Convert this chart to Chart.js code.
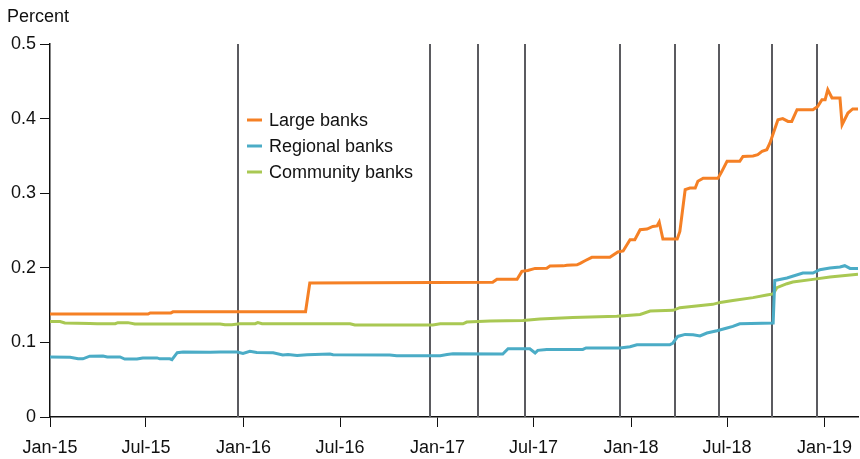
<!DOCTYPE html>
<html>
<head>
<meta charset="utf-8">
<script src="https://cdn.jsdelivr.net/npm/chart.js@4.4.1/dist/chart.umd.min.js"></script>
<style>
  html, body { margin: 0; padding: 0; background: #fff; }
  #wrap { width: 860px; height: 459px; }
</style>
</head>
<body>
<div id="wrap"><canvas id="depositChart" width="860" height="459"></canvas></div>
<script>
// x values are days since 1 Jan 2015
const tickDays = [0, 181, 365, 547, 731, 912, 1096, 1277, 1461];
const tickLabels = ['Jan-15', 'Jul-15', 'Jan-16', 'Jul-16', 'Jan-17', 'Jul-17', 'Jan-18', 'Jul-18', 'Jan-19'];
const hikeDays = [354, 716, 808, 895, 1076, 1178, 1261, 1362, 1446];

const largeDays = [0, 185, 189, 228, 232, 482, 490, 835, 843, 881, 890, 901, 915, 937, 943, 968, 975, 994, 1000, 1009, 1022, 1056, 1071, 1081, 1094, 1103, 1113, 1126, 1137, 1145, 1149, 1156, 1183, 1188, 1198, 1207, 1217, 1222, 1232, 1260, 1267, 1277, 1301, 1307, 1326, 1335, 1343, 1352, 1358, 1373, 1382, 1392, 1399, 1409, 1439, 1448, 1456, 1462, 1467, 1475, 1490, 1494, 1505, 1514, 1524];
const largeVals = [0.138, 0.138, 0.1395, 0.1395, 0.141, 0.141, 0.1796, 0.1805, 0.1845, 0.1845, 0.1952, 0.1965, 0.1992, 0.1995, 0.2024, 0.2026, 0.2035, 0.204, 0.206, 0.2095, 0.214, 0.214, 0.2212, 0.2225, 0.2377, 0.2377, 0.251, 0.252, 0.2555, 0.2562, 0.2614, 0.2386, 0.2386, 0.2488, 0.3047, 0.307, 0.307, 0.316, 0.32, 0.32, 0.329, 0.3427, 0.3427, 0.3493, 0.35, 0.3516, 0.356, 0.3583, 0.3673, 0.3985, 0.4, 0.3962, 0.3962, 0.4119, 0.4119, 0.4164, 0.4253, 0.4253, 0.4387, 0.4276, 0.4276, 0.3918, 0.4075, 0.4129, 0.4129];

const regionalDays = [0, 38, 53, 62, 75, 100, 108, 132, 141, 164, 175, 202, 207, 226, 230, 240, 251, 302, 321, 353, 364, 377, 390, 421, 439, 449, 466, 485, 528, 534, 641, 654, 736, 749, 760, 854, 864, 905, 915, 920, 937, 1005, 1011, 1075, 1094, 1107, 1169, 1175, 1184, 1198, 1213, 1226, 1239, 1258, 1277, 1288, 1301, 1364, 1367, 1390, 1420, 1439, 1452, 1471, 1490, 1499, 1509, 1524];
const regionalVals = [0.0804, 0.08, 0.078, 0.078, 0.0815, 0.0818, 0.0805, 0.0805, 0.0777, 0.0777, 0.0792, 0.0792, 0.078, 0.078, 0.0768, 0.0862, 0.0871, 0.0868, 0.0871, 0.0871, 0.0853, 0.088, 0.0866, 0.0862, 0.0831, 0.0839, 0.0826, 0.0835, 0.0844, 0.0835, 0.0831, 0.0822, 0.0822, 0.0839, 0.0848, 0.0845, 0.0915, 0.0915, 0.0858, 0.0893, 0.0906, 0.0906, 0.0925, 0.0925, 0.0942, 0.0969, 0.0969, 0.0992, 0.108, 0.1107, 0.1103, 0.1086, 0.1126, 0.1157, 0.1193, 0.1214, 0.125, 0.126, 0.183, 0.1863, 0.193, 0.193, 0.1975, 0.1997, 0.201, 0.2028, 0.1992, 0.1992];

const communityDays = [0, 19, 28, 75, 89, 123, 128, 147, 160, 321, 330, 343, 358, 387, 392, 400, 566, 575, 722, 736, 779, 786, 830, 892, 924, 986, 1069, 1113, 1132, 1175, 1188, 1250, 1264, 1288, 1326, 1352, 1364, 1371, 1390, 1401, 1439, 1471, 1524];
const communityVals = [0.128, 0.128, 0.126, 0.1255, 0.125, 0.125, 0.1265, 0.1265, 0.1247, 0.1247, 0.1237, 0.1237, 0.125, 0.125, 0.1265, 0.125, 0.125, 0.1233, 0.1233, 0.125, 0.125, 0.1273, 0.1287, 0.1295, 0.1314, 0.1335, 0.1349, 0.1375, 0.142, 0.143, 0.1465, 0.151, 0.1536, 0.1563, 0.16, 0.1635, 0.165, 0.1733, 0.1787, 0.181, 0.1845, 0.1877, 0.1912];

const seriesNames = ['Large banks', 'Regional banks', 'Community banks'];
const seriesColors = ['#f58025', '#4bacc6', '#a9c853'];

const FONT = '"Liberation Sans", Arial, sans-serif';

const toPoints = (days, vals) => days.map((d, i) => ({ x: d, y: vals[i] }));

// vertical rule at each rate hike, plus "Percent" label and in-plot legend
const extrasPlugin = {
    id: 'extras',
    beforeDatasetsDraw(chart) {
        const { ctx, chartArea, scales } = chart;
        ctx.save();
        ctx.strokeStyle = '#5b5b60';
        ctx.lineWidth = 2;
        hikeDays.forEach(d => {
            const x = Math.round(scales.x.getPixelForValue(d));
            ctx.beginPath();
            ctx.moveTo(x, chartArea.top);
            ctx.lineTo(x, chartArea.bottom);
            ctx.stroke();
        });
        ctx.restore();
    },
    afterDraw(chart) {
        const ctx = chart.ctx;
        ctx.save();
        ctx.fillStyle = '#111';
        ctx.font = '18px ' + FONT;
        ctx.textBaseline = 'middle';
        ctx.fillText('Percent', 7, 17);

        seriesNames.forEach((name, i) => {
            const y = 120 + i * 26;
            ctx.strokeStyle = seriesColors[i];
            ctx.lineWidth = 3;
            ctx.beginPath();
            ctx.moveTo(247, y);
            ctx.lineTo(262, y);
            ctx.stroke();
            ctx.fillText(name, 269, y + 1);
        });
        ctx.restore();
    }
};

new Chart(document.getElementById('depositChart'), {
    type: 'line',
    data: {
        datasets: [
            { label: seriesNames[0], data: toPoints(largeDays, largeVals), borderColor: seriesColors[0] },
            { label: seriesNames[1], data: toPoints(regionalDays, regionalVals), borderColor: seriesColors[1] },
            { label: seriesNames[2], data: toPoints(communityDays, communityVals), borderColor: seriesColors[2] },
        ].map(ds => Object.assign(ds, { borderWidth: 3, pointRadius: 0, fill: false, tension: 0 })),
    },
    options: {
        responsive: false,
        animation: false,
        layout: { padding: { top: 44, right: 2, left: 0, bottom: 0 } },
        plugins: { legend: { display: false }, tooltip: { enabled: false } },
        scales: {
            x: {
                type: 'linear',
                min: 0,
                max: 1524,
                afterBuildTicks: axis => { axis.ticks = tickDays.map(v => ({ value: v })); },
                afterFit: axis => {
                    axis.height = 42;
                    axis.paddingLeft = 0;
                    axis.paddingRight = 0;
                },
                ticks: {
                    autoSkip: false,
                    maxRotation: 0,
                    padding: 10,
                    color: '#111',
                    font: { family: FONT, size: 18 },
                    callback: v => tickLabels[tickDays.indexOf(v)],
                },
                grid: { drawOnChartArea: false, drawTicks: true, tickLength: 10, color: '#111' },
                border: { color: '#111', width: 1.5 },
            },
            y: {
                min: 0,
                max: 0.5,
                afterFit: axis => { axis.width = 50; },
                ticks: {
                    stepSize: 0.1,
                    padding: 4,
                    color: '#111',
                    font: { family: FONT, size: 18 },
                },
                grid: { drawOnChartArea: false, drawTicks: true, tickLength: 10, color: '#111' },
                border: { color: '#111', width: 1.5 },
            },
        },
    },
    plugins: [extrasPlugin],
});
</script>
</body>
</html>
